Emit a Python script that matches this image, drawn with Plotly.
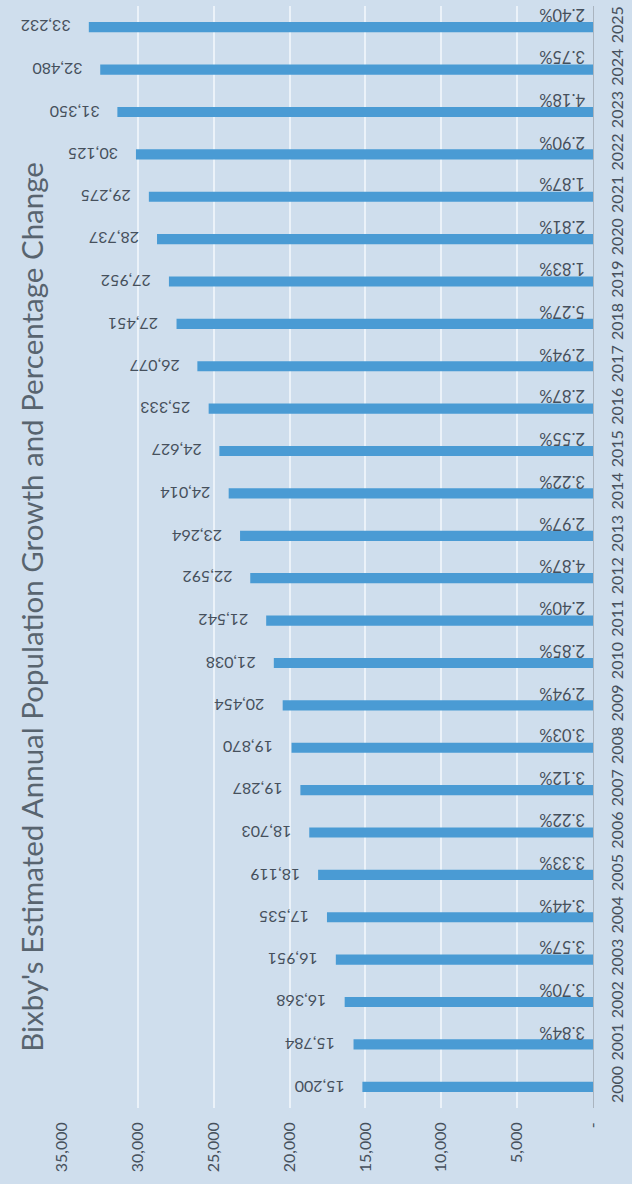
import plotly.graph_objects as go

years = [str(y) for y in range(2000, 2026)]
population = [15200, 15784, 16368, 16951, 17535, 18119, 18703, 19287, 19870, 20454,
              21038, 21542, 22592, 23264, 24014, 24627, 25333, 26077, 27451, 27952,
              28737, 29275, 30125, 31350, 32480, 33232]
pct_change = ["", "3.84%", "3.70%", "3.57%", "3.44%", "3.33%", "3.22%", "3.12%", "3.03%", "2.94%",
              "2.85%", "2.40%", "4.87%", "2.97%", "3.22%", "2.55%", "2.87%", "2.94%", "5.27%", "1.83%",
              "2.81%", "1.87%", "2.90%", "4.18%", "3.75%", "2.40%"]
tick_vals = [0, 5000, 10000, 15000, 20000, 25000, 30000, 35000]
tick_text = ["-", "5,000", "10,000", "15,000", "20,000", "25,000", "30,000", "35,000"]
title_text = "Bixby's Estimated Annual Population Growth and Percentage Change"

BG = "#cfdeed"
BAR = "#4a9bd4"
TXT = "#46505c"
FONT = "Lato"

fig = go.Figure()
fig.add_trace(go.Bar(
    x=population, y=years, orientation="h",
    marker=dict(color=BAR, line=dict(width=0)),
    width=0.24,
    hoverinfo="x+y",
))

annotations = []
for i, val in enumerate(population):
    annotations.append(dict(
        x=val, y=i, xref="x", yref="y",
        text=f"{val:,}", showarrow=False, textangle=180,
        xanchor="right", yanchor="middle", xshift=-16,
        font=dict(family=FONT, size=16, color=TXT),
    ))
for i, p in enumerate(pct_change):
    if p:
        annotations.append(dict(
            x=0, y=i, xref="x", yref="y",
            text=p, showarrow=False, textangle=180,
            xanchor="right", yanchor="middle", xshift=-6, yshift=12,
            font=dict(family=FONT, size=16.5, color=TXT),
        ))
annotations.append(dict(
    x=-0.058, y=0.455, xref="paper", yref="paper",
    text=title_text, showarrow=False, textangle=-90,
    xanchor="center", yanchor="middle",
    font=dict(family=FONT, size=29.5, color="#58646f"),
))

fig.update_layout(
    width=632, height=1184,
    margin=dict(l=62, r=34, t=6, b=76),
    paper_bgcolor=BG, plot_bgcolor=BG,
    showlegend=False,
    annotations=annotations,
    xaxis=dict(
        range=[35000, 0], tickvals=tick_vals, ticktext=tick_text,
        tickangle=-90, showgrid=True, gridcolor="#ebf2f9", gridwidth=1.5,
        zeroline=False, showline=False, ticks="",
        ticklabelstandoff=10,
        tickfont=dict(family=FONT, size=16, color=TXT),
    ),
    yaxis=dict(
        type="category", categoryorder="array", categoryarray=years,
        side="right", tickangle=-90, range=[-0.5, len(years) - 0.5],
        showgrid=False, zeroline=False, showline=True,
        linecolor="#aab4bf", linewidth=1, ticks="",
        ticklabelstandoff=10,
        tickfont=dict(family=FONT, size=16, color=TXT),
    ),
)

fig.write_html("out.html", config={"displayModeBar": False},
               post_script="document.body.style.margin='0';")
